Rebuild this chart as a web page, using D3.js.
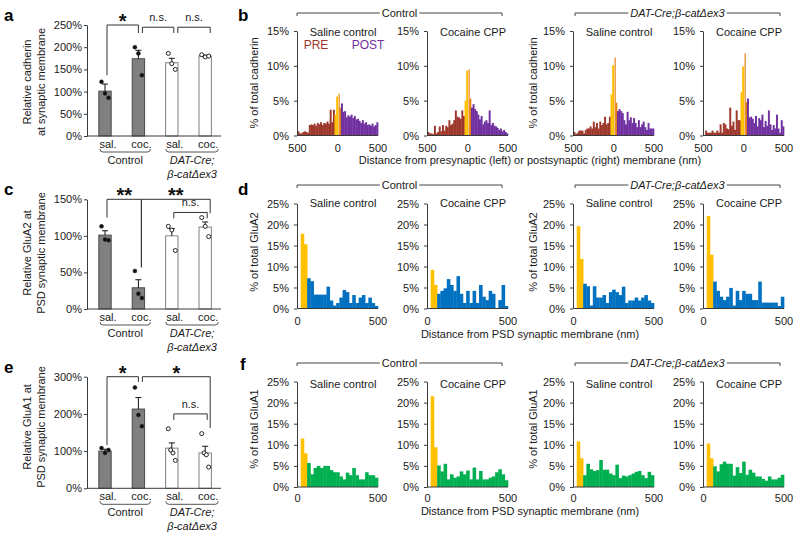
<!DOCTYPE html>
<html><head><meta charset="utf-8">
<script src="https://cdn.jsdelivr.net/npm/d3@7"></script>
<style>
html,body{margin:0;padding:0;background:#fff;}
svg{display:block;font-family:"Liberation Sans",Arial,Helvetica,sans-serif;}
</style></head><body>
<svg id="chart" width="800" height="535"></svg>
<script>
// ---------------- DATA ----------------
const barLabels = ["sal.", "coc.", "sal.", "coc."];
const barGenotype = ["ctrl", "ctrl", "dat", "dat"];
const groupNames = ["Control", "DAT-Cre;", "β-catΔex3"];
const headerNames = ["Control", "DAT-Cre;β-catΔex3"];

const cadherinMean = [101, 174, 165, 180];
const cadherinSem = [16, 19, 10, 2];
const cadherinPts = [[122, 96, 86], [200, 186, 137], [186, 163, 150], [183, 178, 180]];
const cadherinTicks = [0, 50, 100, 150, 200, 250];

const gluA2Mean = [101, 29, 100, 112];
const gluA2Sem = [6, 11, 10, 7];
const gluA2Pts = [[113, 95, 94], [52, 21, 15], [113, 108, 80], [125, 113, 99]];
const gluA2Ticks = [0, 50, 100, 150];

const gluA1Mean = [100, 213, 108, 95];
const gluA1Sem = [5, 31, 14, 18];
const gluA1Pts = [[108, 95, 103], [271, 197, 167], [160, 103, 95, 75], [147, 95, 90, 57]];
const gluA1Ticks = [0, 100, 200, 300];

const histTitles = ["Saline control", "Cocaine CPP", "Saline control", "Cocaine CPP"];
const cadHistTicks = [0, 5, 10, 15];
const gluHistTicks = [0, 5, 10, 15, 20, 25];
const cadXTicks = [-500, 0, 500];
const cadXTickLabels = ["500", "0", "500"];
const gluXTicks = [0, 500];
const gluXTickLabels = ["0", "500"];

// cadherin: 20-nm bins from -500 to +500 nm (50 bins)
const cadCtrlSaline = [0.6,0.3,0.3,0.5,0.6,0.5,0.4,1.5,1.6,1.5,1.7,1.4,1.8,1.6,1.9,1.5,1.8,1.7,2.0,1.7,3.7,1.9,3.7, 3.0,5.6, 6.0,4.0, 4.6,3.4,3.5,2.6,2.9,2.7,3.0,2.5,2.8,2.3,2.4,2.1,1.8,2.2,1.7,1.9,1.5,1.6,1.4,1.7,1.3,1.5,1.9];
const cadCtrlCocaine = [0.5,0.3,0.3,0.2,1.4,0.3,0.5,1.3,0.6,1.5,0.7,1.4,1.2,2.2,1.5,1.7,2.2,3.6,2.7,2.6,2.4,3.6,2.8, 5.0,9.3, 9.5,5.3, 4.0,4.5,3.8,3.5,3.0,2.3,2.8,1.6,2.0,2.2,1.8,3.6,1.5,1.8,1.4,1.3,1.1,0.8,1.0,0.6,0.8,0.5,0.3];
const cadDatSaline = [0.5,0.2,0.4,0.7,0.7,0.7,0.3,0.8,1.0,1.0,1.3,1.0,2.0,1.2,1.8,1.0,2.0,1.5,1.8,2.7,1.6,1.8,2.7, 5.9,10.1, 11.2,4.7, 3.5,3.8,3.5,3.2,2.2,1.6,3.4,2.2,2.6,1.8,2.5,1.8,1.2,2.2,1.2,1.6,2.0,1.2,0.8,1.8,1.0,1.0,1.0];
const cadDatCocaine = [0,0.7,0.4,0.4,0.4,0.7,0.4,0.4,0.7,0.4,1.6,0.4,1.8,1.6,1.0,0.9,4.0,1.4,2.0,0.8,3.6,2.2,2.2, 6.2,9.9, 11.8,4.8, 5.3,2.6,2.7,2.4,1.8,2.8,1.3,2.5,2.2,3.0,1.2,2.1,1.4,3.6,1.6,0.8,1.5,1.0,3.0,1.0,0.4,2.2,1.3];

// GluA2: 20-nm bins from 0 to 500 nm (25 bins)
const a2CtrlSaline = [0,17.8,15.3,7.2,6.5,3.3,3.3,3.3,3.3,5.2,1.9,0.7,1.3,2.6,4.4,3.9,1.3,3.2,1.3,2.6,3.2,1.3,2.6,1.3,0.6];
const a2CtrlCocaine = [0,9.2,5.6,3.5,4.2,4.8,7.0,5.6,4.2,7.7,3.5,1.3,4.2,1.3,4.2,1.3,5.6,2.8,2.0,4.2,3.5,0,2.0,5.6,0.6];
const a2DatSaline = [0,19.6,11.8,5.9,5.3,0.7,5.3,2.6,2.6,3.2,1.3,3.9,4.5,3.9,3.2,5.2,1.3,1.9,1.9,2.6,1.9,2.6,3.2,1.9,1.3];
const a2DatCocaine = [0,22.0,12.8,6.4,4.2,2.8,2.0,2.8,4.9,0.7,4.2,2.0,4.2,3.5,3.5,2.0,2.0,6.4,1.4,1.4,1.4,1.4,1.4,0.6,2.8];

// GluA1
const a1CtrlSaline = [0,11.5,8.0,5.7,3.0,4.5,5.0,4.5,5.0,5.0,4.0,3.5,3.5,2.5,1.8,3.4,2.8,4.5,2.8,1.8,1.8,3.5,2.8,2.8,2.2];
const a1CtrlCocaine = [0,21.5,9.4,5.1,3.7,5.5,1.8,3.0,2.2,2.5,3.7,3.0,3.9,1.8,4.6,1.8,3.8,1.8,1.8,2.2,2.5,3.5,4.2,3.0,1.6];
const a1DatSaline = [0,10.8,6.8,2.8,5.5,4.2,3.8,4.0,6.4,4.1,4.1,3.2,2.8,5.3,2.1,2.7,2.5,2.8,3.2,3.6,3.8,2.8,2.1,3.6,2.8];
const a1DatCocaine = [0,10.3,6.8,4.9,3.7,5.4,6.0,5.5,5.5,2.7,4.7,3.3,6.0,2.9,4.1,3.4,2.5,2.5,1.9,1.5,2.5,1.8,1.8,2.2,2.9];

const BIN = 20;

// ---------------- STYLE ----------------
const FONT = "'Liberation Sans', Arial, Helvetica, sans-serif";
const TXT = "#1a1a1a";
const AXC = "#3a3a3a";
const C_PRE = "#9e372c", C_POST = "#7030a0", C_YEL = "#ffc000", C_ORG = "#e8820e";
const C_BLUE = "#0070c0", C_GREEN = "#00b050";

const svg = d3.select("#chart");
svg.append("rect").attr("width", 800).attr("height", 535).attr("fill", "#fff");

function styleAxis(sel) {
  sel.attr("font-family", FONT).attr("font-size", 11);
  sel.selectAll("path,line").attr("stroke", AXC).attr("stroke-width", 1);
  sel.selectAll("text").attr("fill", TXT);
}
function text(g, x, y, s, opts = {}) {
  const t = g.append("text").attr("x", x).attr("y", y).text(s)
    .attr("font-family", FONT).attr("font-size", opts.size || 11).attr("fill", opts.fill || TXT)
    .attr("text-anchor", opts.anchor || "middle");
  if (opts.italic) t.attr("font-style", "italic");
  if (opts.bold) t.attr("font-weight", "bold");
  if (opts.rotate) t.attr("transform", `rotate(-90,${x},${y})`);
  return t;
}
function letter(x, y, s) { text(svg, x, y, s, { size: 17, bold: true, anchor: "start", fill: "#000" }); }

// ---------------- BAR PANELS ----------------
function barPanel(cfg) {
  const g = svg.append("g");
  const x = d3.scaleBand().domain(d3.range(barLabels.length)).range([88.3, 221.9]).paddingInner(0.63).paddingOuter(0.315);
  const y = d3.scaleLinear().domain([0, cfg.yMax]).range([cfg.y0, cfg.yTop]);
  const cx = i => x(i) + x.bandwidth() / 2;

  g.selectAll("rect.bar").data(cfg.means).join("rect")
    .attr("x", (d, i) => x(i)).attr("width", x.bandwidth())
    .attr("y", d => y(d)).attr("height", d => cfg.y0 - y(d))
    .attr("fill", (d, i) => barGenotype[i] === "ctrl" ? "#808080" : "#fff")
    .attr("stroke", (d, i) => barGenotype[i] === "ctrl" ? "#4a4a4a" : "#808080")
    .attr("stroke-width", 1);

  // error bars
  cfg.means.forEach((m, i) => {
    const top = y(m + cfg.sems[i]);
    g.append("line").attr("x1", cx(i)).attr("x2", cx(i)).attr("y1", y(m)).attr("y2", top).attr("stroke", "#111");
    g.append("line").attr("x1", cx(i) - 3).attr("x2", cx(i) + 3).attr("y1", top).attr("y2", top).attr("stroke", "#111");
  });
  // dots
  cfg.pts.forEach((arr, i) => {
    const n = arr.length;
    arr.forEach((v, j) => {
      const off = n > 1 ? -3.5 + 7 * j / (n - 1) : 0;
      g.append("circle").attr("cx", cx(i) + off).attr("cy", y(v)).attr("r", 2)
        .attr("fill", barGenotype[i] === "ctrl" ? "#111" : "#fff")
        .attr("stroke", "#222").attr("stroke-width", barGenotype[i] === "ctrl" ? 0.5 : 1);
    });
  });

  const ax = g.append("g").attr("transform", "translate(87,0)")
    .call(d3.axisLeft(y).tickValues(cfg.ticks).tickFormat(d => d + "%").tickSizeInner(3).tickSizeOuter(0).tickPadding(2));
  styleAxis(ax);
  g.append("line").attr("x1", 87).attr("x2", 221).attr("y1", cfg.y0).attr("y2", cfg.y0).attr("stroke", AXC);

  // x labels
  barLabels.forEach((l, i) => text(g, cx(i) + 3, cfg.y0 + 12, l));
  // group brackets
  const grp = [[cx(0) - 5, cx(1) + 12], [cx(2) - 6, cx(3) + 13]];
  grp.forEach(([a, b]) => {
    const yy = cfg.y0 + 16;
    g.append("path").attr("d", `M${a},${yy - 3} Q${a},${yy} ${a + 3},${yy} L${b - 3},${yy} Q${b},${yy} ${b},${yy - 3}`)
      .attr("fill", "none").attr("stroke", "#555");
  });
  text(g, (grp[0][0] + grp[0][1]) / 2, cfg.y0 + 28, groupNames[0]);
  text(g, (grp[1][0] + grp[1][1]) / 2, cfg.y0 + 28, groupNames[1], { italic: true });
  text(g, (grp[1][0] + grp[1][1]) / 2, cfg.y0 + 42, groupNames[2], { italic: true });

  // significance brackets
  cfg.brackets.forEach(b => {
    const xa = cx(b.a) + b.da, xb = cx(b.b) + b.db, yt = y(b.top);
    g.append("path").attr("d", `M${xa},${y(b.endA)} V${yt} H${xb} V${y(b.endB)}`)
      .attr("fill", "none").attr("stroke", "#333");
    if (b.label === "n.s.") text(g, (xa + xb) / 2, yt - 6, b.label);
    else text(g, (xa + xb) / 2, yt + 3, b.label, { size: 20, bold: true, fill: "#111" });
  });

  // y label
  text(svg, 31, cfg.labelCy, cfg.ylabel[0], { rotate: true });
  text(svg, 45, cfg.labelCy, cfg.ylabel[1], { rotate: true });
}

barPanel({ y0: 136, yTop: 25, yMax: 250, ticks: cadherinTicks, means: cadherinMean, sems: cadherinSem, pts: cadherinPts,
  ylabel: ["Relative cadherin", "at synaptic membrane"], labelCy: 82,
  brackets: [
    { a: 0, da: 2, b: 1, db: 0, top: 250, endA: 137, endB: 232, label: "*" },
    { a: 1, da: 4, b: 2, db: 2, top: 245, endA: 232, endB: 232, label: "n.s." },
    { a: 2, da: 6, b: 3, db: 5, top: 245, endA: 232, endB: 232, label: "n.s." }
  ] });
barPanel({ y0: 309, yTop: 199.3, yMax: 150, ticks: gluA2Ticks, means: gluA2Mean, sems: gluA2Sem, pts: gluA2Pts,
  ylabel: ["Relative GluA2 at", "PSD synaptic membrane"], labelCy: 253,
  brackets: [
    { a: 0, da: 2, b: 1, db: 3, top: 150, endA: 125, endB: 57, label: "**" },
    { a: 1, da: 3, b: 3, db: 5, top: 150, endA: 57, endB: 131, label: "**" },
    { a: 2, da: 2, b: 3, db: 2, top: 132, endA: 124, endB: 124, label: "n.s." }
  ] });
barPanel({ y0: 488.3, yTop: 376.7, yMax: 300, ticks: gluA1Ticks, means: gluA1Mean, sems: gluA1Sem, pts: gluA1Pts,
  ylabel: ["Relative GluA1 at", "PSD synaptic membrane"], labelCy: 427,
  brackets: [
    { a: 0, da: 2, b: 1, db: 0, top: 300, endA: 116, endB: 286, label: "*" },
    { a: 1, da: 4, b: 3, db: 5, top: 300, endA: 286, endB: 162, label: "*" },
    { a: 2, da: 2, b: 3, db: 2, top: 200, endA: 184, endB: 184, label: "n.s." }
  ] });

letter(4, 21, "a"); letter(4, 195, "c"); letter(4, 373, "e");
letter(238, 21, "b"); letter(238, 195, "d"); letter(240, 370, "f");

// ---------------- HISTOGRAMS ----------------
const histX = [297, 427, 573, 703];

function hist(cfg) {
  const g = svg.append("g");
  const x = d3.scaleLinear().domain(cfg.domain).range([cfg.ax + 0.5, cfg.ax + 81]);
  const y = d3.scaleLinear().domain([0, cfg.yMax]).range([cfg.y0, cfg.yTop]);
  const bins = cfg.values.map((v, i) => ({ x0: cfg.domain[0] + i * BIN, v }));
  // a hairline white gap marks the membrane (0 nm) in the two-sided cadherin plots
  const gap = d => (cfg.domain[0] < 0 && d.x0 === 0) ? 0.8 : 0;
  g.selectAll("rect").data(bins.filter(d => d.v > 0)).join("rect")
    .attr("x", d => x(d.x0) + gap(d)).attr("width", d => x(d.x0 + BIN) - x(d.x0) + 0.35 - gap(d))
    .attr("y", d => y(d.v)).attr("height", d => cfg.y0 - y(d.v))
    .attr("fill", d => cfg.colorOf(d.x0));
  const ax = g.append("g").attr("transform", `translate(${cfg.ax},0)`)
    .call(d3.axisLeft(y).tickValues(cfg.ticks).tickFormat(d => d + "%").tickSizeInner(3).tickSizeOuter(0).tickPadding(5));
  styleAxis(ax);
  g.append("line").attr("x1", cfg.ax).attr("x2", x(cfg.domain[1])).attr("y1", cfg.y0).attr("y2", cfg.y0).attr("stroke", AXC);
  cfg.xTicks.forEach((t, i) => text(g, x(t), cfg.xLabY, cfg.xTickLabels[i]));
  text(g, cfg.ax + 46, cfg.titleY, cfg.title);
}

function header(y, ty) {
  const spans = [[297, 502], [575, 780]];
  spans.forEach(([a, b], k) => {
    const mid = (a + b) / 2;
    const t = text(svg, mid, ty, headerNames[k], { italic: k === 1 });
    const w = t.node().getComputedTextLength();
    svg.append("path").attr("d", `M${a},${y + 3} V${y} H${mid - w / 2 - 2}`).attr("fill", "none").attr("stroke", "#444");
    svg.append("path").attr("d", `M${mid + w / 2 + 2},${y} H${b} V${y + 3}`).attr("fill", "none").attr("stroke", "#444");
  });
}

// row b: cadherin
const cadColor = x0 => x0 < -40 ? C_PRE : x0 < 0 ? C_YEL : x0 < 40 ? C_ORG : C_POST;
[cadCtrlSaline, cadCtrlCocaine, cadDatSaline, cadDatCocaine].forEach((vals, k) => hist({
  ax: histX[k], y0: 135.5, yTop: 31, yMax: 15, ticks: cadHistTicks, domain: [-500, 500], values: vals,
  colorOf: cadColor, xTicks: cadXTicks, xTickLabels: cadXTickLabels, xLabY: 152, title: histTitles[k], titleY: 36 }));
header(13, 17);
text(svg, 316, 49, "PRE", { fill: C_PRE, size: 12 });
text(svg, 368, 49, "POST", { fill: C_POST, size: 12 });
text(svg, 258, 83, "% of total cadherin", { rotate: true });
text(svg, 537, 83, "% of total cadherin", { rotate: true });
text(svg, 530, 164, "Distance from presynaptic (left) or postsynaptic (right) membrane (nm)");

// row d: GluA2
const a2Color = x0 => x0 < 60 ? C_YEL : C_BLUE;
[a2CtrlSaline, a2CtrlCocaine, a2DatSaline, a2DatCocaine].forEach((vals, k) => hist({
  ax: histX[k], y0: 308.5, yTop: 203.5, yMax: 25, ticks: gluHistTicks, domain: [0, 500], values: vals,
  colorOf: a2Color, xTicks: gluXTicks, xTickLabels: gluXTickLabels, xLabY: 325, title: histTitles[k], titleY: 207 }));
header(185, 189);
text(svg, 258, 252, "% of total GluA2", { rotate: true });
text(svg, 537, 252, "% of total GluA2", { rotate: true });
text(svg, 530, 338, "Distance from PSD synaptic membrane (nm)");

// row f: GluA1
const a1Color = x0 => x0 < 60 ? C_YEL : C_GREEN;
[a1CtrlSaline, a1CtrlCocaine, a1DatSaline, a1DatCocaine].forEach((vals, k) => hist({
  ax: histX[k], y0: 487, yTop: 381.5, yMax: 25, ticks: gluHistTicks, domain: [0, 500], values: vals,
  colorOf: a1Color, xTicks: gluXTicks, xTickLabels: gluXTickLabels, xLabY: 502, title: histTitles[k], titleY: 388 }));
header(363, 367);
text(svg, 258, 429, "% of total GluA1", { rotate: true });
text(svg, 537, 429, "% of total GluA1", { rotate: true });
text(svg, 530, 515, "Distance from PSD synaptic membrane (nm)");
</script>
</body></html>
